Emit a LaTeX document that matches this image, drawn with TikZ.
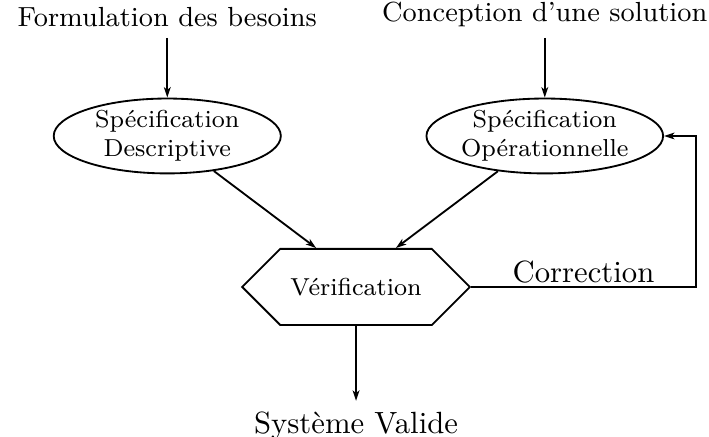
\documentclass[tikz,border=0pt]{standalone}
\usetikzlibrary{arrows.meta, positioning, shapes.geometric, shapes.symbols}

\begin{document}
\begin{tikzpicture}[
      x=1pt, y=1pt,
      every node/.style={font=\small},
      spec/.style={draw, semithick, ellipse, minimum width=74pt, minimum height=24.4pt,
                   inner sep=0pt, align=center, font=\footnotesize},
      verif/.style={draw, semithick, signal, signal to=east and west, signal pointer angle=90,
                    minimum width=73.6pt, minimum height=24.8pt, font=\footnotesize},
      arr/.style={-{Stealth[length=3.4pt, width=2.2pt, inset=0.9pt]}, semithick},
      lbl/.style={font=\normalsize}
    ]
    \useasboundingbox (-116,-48.8) rectangle (115,93.5);
    \node[verif] (ver) at (0,0) {Vérification};
    \node[spec] (desc) at (-61.5,49.2) {Spécification\\Descriptive};
    \node[spec] (oper) at (61.5,49.2) {Spécification\\Opérationnelle};
    \node[above=19.5pt of desc] (besoins) {Formulation des besoins};
    \node[above=19.5pt of oper] (concep) {Conception d'une solution};
    \node[lbl, below=24.4pt of ver] (valide) {Système Valide};
    \coordinate (retour) at (110.7,0);
    \draw[arr] (besoins) -- (desc);
    \draw[arr] (concep) -- (oper);
    \draw[arr] (desc) -- ([xshift=-13pt]ver.north);
    \draw[arr] (oper) -- ([xshift=13pt]ver.north);
    \draw[arr] (ver.east) -- node[lbl, anchor=south, inner sep=1pt] {Correction} (retour) |- (oper.east);
    \draw[arr] (ver) -- (valide);
  \end{tikzpicture}
\end{document}
